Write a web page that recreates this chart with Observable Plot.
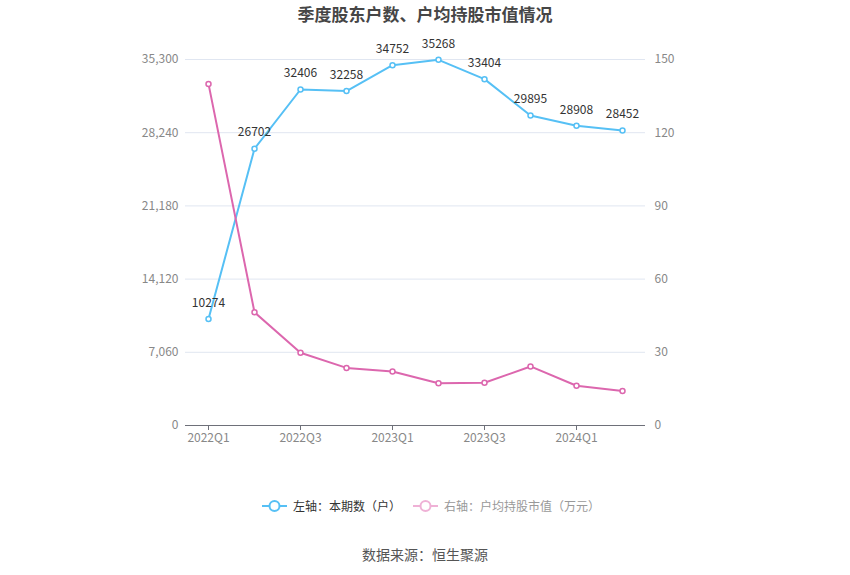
<!DOCTYPE html>
<html><head><meta charset="utf-8">
<script src="https://cdn.jsdelivr.net/npm/d3@7"></script>
<script src="https://cdn.jsdelivr.net/npm/@observablehq/plot@0.6"></script>
<style>
body{margin:0;width:850px;height:575px;background:#fff;font-family:"Noto Sans CJK SC","Noto Sans",sans-serif;position:relative;overflow:hidden}
#title{position:absolute;top:0;left:0;width:850px;text-align:center;font-size:17px;font-weight:bold;color:#464646;line-height:28px}
#chart{position:absolute;top:28px;left:0}
#legend{position:absolute;top:496px;left:6px;width:850px;display:flex;justify-content:center;align-items:center;font-size:12px;line-height:20px}
#legend .item{display:flex;align-items:center}
#legend svg{margin-right:6px}
#caption{position:absolute;top:544px;left:0;width:850px;text-align:center;font-size:14px;color:#555;line-height:20px}
</style></head>
<body>
<div id="title">季度股东户数、户均持股市值情况</div>
<div id="chart"></div>
<div id="legend">
  <div class="item" style="color:#333;margin-right:12px"><svg width="25" height="14"><line x1="0" y1="7" x2="25" y2="7" stroke="#56c0f5" stroke-width="2"/><circle cx="12.5" cy="7" r="5" fill="#fff" stroke="#56c0f5" stroke-width="2"/></svg>左轴：本期数（户）</div>
  <div class="item" style="color:#999"><svg width="25" height="14"><line x1="0" y1="7" x2="25" y2="7" stroke="#efb1d6" stroke-width="2"/><circle cx="12.5" cy="7" r="5" fill="#fff" stroke="#efb1d6" stroke-width="2"/></svg>右轴：户均持股市值（万元）</div>
</div>
<div id="caption">数据来源：恒生聚源</div>
<script>
const quarters = ["2022Q1","2022Q2","2022Q3","2022Q4","2023Q1","2023Q2","2023Q3","2023Q4","2024Q1","2024Q2"];
const holders = [10274,26702,32406,32258,34752,35268,33404,29895,28908,28452];
const avgValue = [140.0,46.4,29.8,23.6,22.1,17.3,17.5,24.2,16.3,14.1];
const leftTicks = [0,7060,14120,21180,28240,35300];
const rightTicks = [0,30,60,90,120,150];
const xTickLabels = ["2022Q1","2022Q3","2023Q1","2023Q3","2024Q1"];

const leftMax = 35300, rightMax = 150;
const toLeft = v => v * leftMax / rightMax;
const blue = "#56c0f5", pink = "#dc67ae";

const blueData = quarters.map((q,i)=>({q, v:holders[i]}));
const pinkData = quarters.map((q,i)=>({q, v:toLeft(avgValue[i])}));

const chart = Plot.plot({
  width:850, height:420,
  marginTop:31, marginBottom:23, marginLeft:185, marginRight:205,
  x:{type:"point", domain:quarters, padding:0.5, axis:null},
  y:{domain:[0,leftMax], axis:null},
  style:{fontFamily:'"Noto Sans CJK SC","Noto Sans",sans-serif', fontSize:"12px", background:"#fff"},
  marks:[
    Plot.gridY(leftTicks.slice(1), {stroke:"#e0e6f1", strokeOpacity:1}),
    Plot.axisY(leftTicks, {anchor:"left", label:null, tickSize:0, tickPadding:7, tickFormat:d3.format(","), color:"#888", fontSize:12}),
    Plot.axisY(rightTicks.map(toLeft), {anchor:"right", label:null, tickSize:0, tickPadding:9, tickFormat:d=>String(Math.round(d*rightMax/leftMax)), color:"#888", fontSize:12}),
    Plot.ruleY([0], {stroke:"#6e7079"}),
    Plot.axisX(xTickLabels, {label:null, tickSize:5, tickPadding:3, stroke:"#6e7079", fill:"#888", fontSize:12}),
    Plot.line(blueData, {x:"q", y:"v", stroke:blue, strokeWidth:2}),
    Plot.line(pinkData, {x:"q", y:"v", stroke:pink, strokeWidth:2}),
    Plot.dot(blueData, {x:"q", y:"v", r:2.5, fill:"#fff", stroke:blue, strokeWidth:1.5}),
    Plot.dot(pinkData, {x:"q", y:"v", r:2.5, fill:"#fff", stroke:pink, strokeWidth:1.5}),
    Plot.text(blueData, {x:"q", y:"v", text:d=>String(d.v), dy:-16, fill:"#333", fontSize:12, textAnchor:"middle"})
  ]
});
document.getElementById("chart").appendChild(chart);
</script>
</body></html>
